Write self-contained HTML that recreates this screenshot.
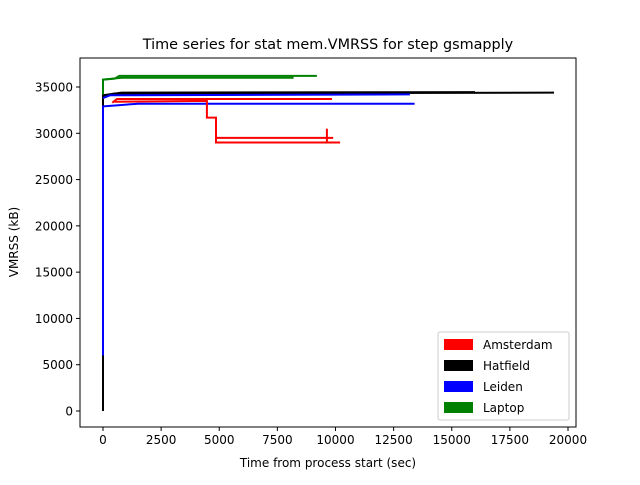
<!DOCTYPE html>
<html><head><meta charset="utf-8"><style>
body{margin:0;background:#fff}
svg{font-family:"DejaVu Sans","Liberation Sans",sans-serif}
</style></head><body>
<svg id="c" width="640" height="480" xmlns="http://www.w3.org/2000/svg">
<rect width="640" height="480" fill="#fff"/>
<text x="328" y="49" font-size="14.4" text-anchor="middle">Time series for stat mem.VMRSS for step gsmapply</text>
<g id="plot"></g>
<g id="axes"></g>
<text x="328" y="467" font-size="12" text-anchor="middle">Time from process start (sec)</text>
<text transform="translate(18,242) rotate(-90)" font-size="12" text-anchor="middle">VMRSS (kB)</text>
<g>
<rect x="438" y="332" width="131" height="88" rx="2" fill="#fff" stroke="#ccc"/>
<g><rect x="444" y="339" width="29" height="11" fill="red"/><text x="483" y="349" font-size="12">Amsterdam</text></g>
<g><rect x="444" y="360" width="29" height="11" fill="#000"/><text x="483" y="370" font-size="12">Hatfield</text></g>
<g><rect x="444" y="381" width="29" height="11" fill="blue"/><text x="483" y="391" font-size="12">Leiden</text></g>
<g><rect x="444" y="402" width="29" height="11" fill="green"/><text x="483" y="412" font-size="12">Laptop</text></g>
</g>
</svg>
<script>
const xTicks=[0,2500,5000,7500,10000,12500,15000,17500,20000];
const yTicks=[0,5000,10000,15000,20000,25000,30000,35000];
const amsterdamT1=[400,600,9850], amsterdamV1=[33300,33700,33700];
const amsterdamT2=[500,4470,4470,4860,4860,10200], amsterdamV2=[33400,33500,31700,31700,29000,29000];
const amsterdamT3=[4860,9900], amsterdamV3=[29500,29500];
const amsterdamT4=[9630,9630], amsterdamV4=[29000,30500];
const hatfieldT1=[0,0,500,19400], hatfieldV1=[0,34000,34300,34400];
const hatfieldT2=[0,0,800,16000], hatfieldV2=[6000,34100,34400,34450];
const leidenT1=[0,0,1500,13400], leidenV1=[6000,32900,33200,33200];
const leidenT2=[0,300,13200], leidenV2=[33800,34100,34200];
const laptopT1=[0,0,500,700,9200], laptopV1=[34200,35800,35900,36200,36200];
const laptopT2=[0,800,8200], laptopV2=[35800,36000,36000];
const L=80,R=576,T=58,B=427;
const x=t=>103+t*0.02325;
const y=v=>411-v*0.009257;
const NS="http://www.w3.org/2000/svg";
const plot=document.getElementById('plot'), axes=document.getElementById('axes');
function mk(tag,attrs,parent){const e=document.createElementNS(NS,tag);for(const k in attrs)e.setAttribute(k,attrs[k]);parent.appendChild(e);return e;}
function series(ts,vs,color,name){
  let d='';
  for(let i=0;i<ts.length;i++){
    d+=(i?' L':'M')+x(ts[i]).toFixed(1)+','+y(vs[i]).toFixed(1);
  }
  const p=mk('path',{d:d,fill:'none',stroke:color,'stroke-width':2},plot);
  
  
}
series(hatfieldT1,hatfieldV1,'#000','hatfield-line-1');
series(hatfieldT2,hatfieldV2,'#000','hatfield-line-2');
series(leidenT1,leidenV1,'blue','leiden-line-1');
series(leidenT2,leidenV2,'blue','leiden-line-2');
series(amsterdamT1,amsterdamV1,'red','amsterdam-line-1');
series(amsterdamT2,amsterdamV2,'red','amsterdam-line-2');
series(amsterdamT3,amsterdamV3,'red','amsterdam-line-3');
series(amsterdamT4,amsterdamV4,'red','amsterdam-line-4');
series(laptopT1,laptopV1,'green','laptop-line-1');
series(laptopT2,laptopV2,'green','laptop-line-2');
const f=mk('rect',{x:L,y:T,width:R-L,height:B-T,fill:'none',stroke:'#000','stroke-width':1},axes);


xTicks.forEach(t=>{
  mk('line',{x1:x(t),x2:x(t),y1:B,y2:B+4,stroke:'#000'},axes);
  const tx=mk('text',{x:x(t),y:B+17,'font-size':12,'text-anchor':'middle'},axes);
  tx.textContent=t;
  
  
});
yTicks.forEach(v=>{
  mk('line',{x1:L-4,x2:L,y1:y(v),y2:y(v),stroke:'#000'},axes);
  const tx=mk('text',{x:L-7,y:y(v)+4.5,'font-size':12,'text-anchor':'end'},axes);
  tx.textContent=v;
  
  
});
</script>
</body></html>
